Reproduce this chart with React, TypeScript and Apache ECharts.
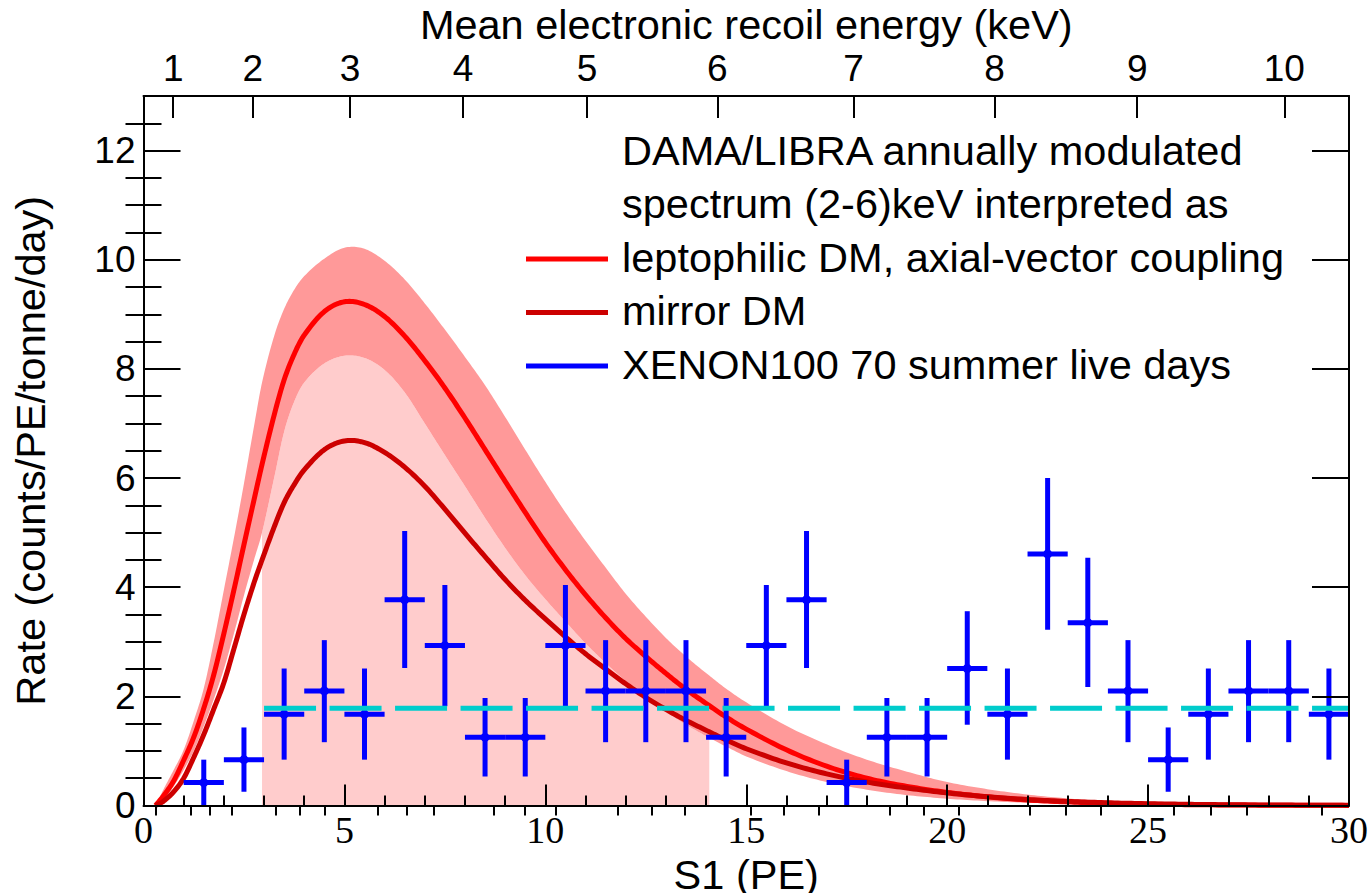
import { useEffect, useRef } from "react";
import * as echarts from "echarts";

// ---------- data ----------
// S1 grid (PE) on which the model curves were read
const curveS1 = [0.3, 0.5, 0.75, 1, 1.25, 1.5, 1.75, 2, 2.25, 2.5, 2.75, 2.95, 3.25, 3.5, 3.75, 4, 4.5, 5, 5.5, 6, 6.5, 7, 7.5, 8, 8.5, 9, 9.5, 10, 10.5, 11, 11.5, 12, 12.5, 13, 13.5, 14.08, 14.5, 15, 16, 17, 18, 19, 20, 21, 22, 23, 24, 25, 26, 27, 28, 29, 30];
// leptophilic DM, axial-vector coupling (central curve)
const leptophilic = [0, 0.18, 0.45, 0.83, 1.25, 1.78, 2.4, 3.15, 3.95, 4.78, 5.6, 6.25, 7.15, 7.8, 8.27, 8.62, 9.05, 9.23, 9.18, 8.96, 8.6, 8.15, 7.65, 7.1, 6.52, 5.94, 5.37, 4.82, 4.32, 3.86, 3.44, 3.06, 2.73, 2.42, 2.13, 1.83, 1.62, 1.4, 1.02, 0.72, 0.5, 0.35, 0.24, 0.16, 0.1, 0.065, 0.04, 0.025, 0.015, 0.01, 0.006, 0.004, 0.002];
// uncertainty band of the leptophilic curve
const leptoBandHigh = [0, 0.3, 0.65, 1.02, 1.55, 2.15, 3.0, 3.95, 4.9, 5.9, 6.95, 7.75, 8.6, 9.1, 9.45, 9.7, 10.02, 10.22, 10.2, 9.98, 9.64, 9.2, 8.72, 8.22, 7.7, 7.12, 6.52, 5.93, 5.37, 4.85, 4.36, 3.88, 3.46, 3.07, 2.73, 2.38, 2.14, 1.89, 1.46, 1.12, 0.84, 0.62, 0.43, 0.3, 0.2, 0.13, 0.085, 0.055, 0.035, 0.022, 0.014, 0.009, 0.006];
const leptoBandLow = [0, 0.1, 0.35, 0.65, 1.0, 1.45, 1.95, 2.5, 3.15, 3.85, 4.5, 5.0, 6.0, 6.85, 7.4, 7.75, 8.1, 8.24, 8.2, 7.98, 7.57, 7.0, 6.42, 5.85, 5.27, 4.72, 4.22, 3.78, 3.37, 2.97, 2.61, 2.28, 1.98, 1.72, 1.48, 1.24, 1.08, 0.9, 0.63, 0.43, 0.29, 0.19, 0.125, 0.08, 0.05, 0.032, 0.02, 0.012, 0.007, 0.004, 0.003, 0.002, 0.001];
// mirror DM
const mirrorDM = [0, 0.08, 0.25, 0.5, 0.88, 1.3, 1.77, 2.25, 2.87, 3.5, 4.08, 4.5, 5.1, 5.55, 5.88, 6.15, 6.52, 6.68, 6.65, 6.47, 6.2, 5.85, 5.43, 4.99, 4.56, 4.14, 3.76, 3.42, 3.09, 2.78, 2.5, 2.23, 1.98, 1.76, 1.56, 1.35, 1.2, 1.04, 0.78, 0.58, 0.43, 0.32, 0.23, 0.16, 0.11, 0.075, 0.05, 0.033, 0.022, 0.014, 0.009, 0.006, 0.004];
// DAMA (2-6) keV window in S1
const damaWindowS1 = [2.95, 14.08];

// XENON100 70 summer live days
const xenonBinCenters = [1.5, 2.5, 3.5, 4.5, 5.5, 6.5, 7.5, 8.5, 9.5, 10.5, 11.5, 12.5, 13.5, 14.5, 15.5, 16.5, 17.5, 18.5, 19.5, 20.5, 21.5, 22.5, 23.5, 24.5, 25.5, 26.5, 27.5, 28.5, 29.5];
const xenonRate = [0.42, 0.84, 1.67, 2.1, 1.67, 3.77, 2.93, 1.25, 1.25, 2.93, 2.1, 2.1, 2.1, 1.25, 2.93, 3.77, 0.42, 1.25, 1.25, 2.51, 1.67, 4.61, 3.35, 2.1, 0.84, 1.67, 2.1, 2.1, 1.67];
const xenonErrLowEnd = [0, 0.25, 0.84, 1.16, 0.84, 2.52, 1.82, 0.53, 0.53, 1.82, 1.16, 1.16, 1.16, 0.53, 1.82, 2.52, 0, 0.53, 0.53, 1.48, 0.84, 3.22, 2.17, 1.16, 0.25, 0.84, 1.16, 1.16, 0.84];
const xenonErrHighEnd = [0.84, 1.43, 2.51, 3.03, 2.51, 5.03, 4.04, 1.97, 1.97, 4.04, 3.03, 3.03, 3.03, 1.97, 4.04, 5.03, 0.84, 1.97, 1.97, 3.56, 2.51, 6.0, 4.54, 3.03, 1.43, 2.51, 3.03, 3.03, 2.51];
const xenonBinHalfWidth = 0.5;

// flat background level (dashed cyan)
const backgroundLevel = 1.78;
const backgroundRangeS1 = [3.0, 30];

// top axis: mean electronic recoil energy (keV) at S1 positions
const keVLabels = ["1", "2", "3", "4", "5", "6", "7", "8", "9", "10"];
const keVMajorS1 = [0.74, 2.72, 5.14, 7.95, 11.04, 14.28, 17.67, 21.18, 24.73, 28.39];
const keVMinorS1 = [0.31, 1.18, 1.66, 2.19, 3.3, 3.88, 4.51, 5.82, 6.54, 7.22, 8.72, 9.49, 10.27, 11.81, 12.64, 13.46, 15.1, 15.93, 16.81, 18.56, 19.42, 20.3, 22.05, 22.95, 23.83, 25.63, 26.56, 27.46, 29.31];

// y ticks
const yMajorTicks = [0, 2, 4, 6, 8, 10, 12];
const yMinorTicks = [0.5, 1, 1.5, 2.5, 3, 3.5, 4.5, 5, 5.5, 6.5, 7, 7.5, 8.5, 9, 9.5, 10.5, 11, 11.5, 12.5];

// legend
const legendLabels = [
  "DAMA/LIBRA annually modulated",
  "spectrum (2-6)keV interpreted as",
  "leptophilic DM, axial-vector coupling",
  "mirror DM",
  "XENON100 70 summer live days",
];
const legendColors = ["", "", "#FF0000", "#CC0000", "#0000FF"];

const SANS = "'Liberation Sans', Arial, Helvetica, sans-serif";
const SERIF = "'Liberation Serif', 'Times New Roman', serif";

// cubic Hermite smoothing of pixel points with finite-difference slopes (rendering only)
function spline(p: number[][], steps = 12): number[][] {
  const n = p.length;
  const m: number[] = [];
  for (let i = 0; i < n; i++) {
    const a = p[Math.max(0, i - 1)];
    const b = p[Math.min(n - 1, i + 1)];
    m.push((b[1] - a[1]) / (b[0] - a[0]));
  }
  const out: number[][] = [];
  for (let i = 0; i < n - 1; i++) {
    const [x0, y0] = p[i];
    const [x1, y1] = p[i + 1];
    const h = x1 - x0;
    for (let s = 0; s < steps; s++) {
      const t = s / steps;
      const t2 = t * t;
      const t3 = t2 * t;
      const y =
        (2 * t3 - 3 * t2 + 1) * y0 + (t3 - 2 * t2 + t) * h * m[i] + (-2 * t3 + 3 * t2) * y1 + (t3 - t2) * h * m[i + 1];
      out.push([x0 + h * t, y]);
    }
  }
  out.push(p[n - 1]);
  return out;
}

export default function App() {
  const ref = useRef<HTMLDivElement>(null);

  useEffect(() => {
    if (!ref.current) return;
    const chart = echarts.init(ref.current, undefined, { renderer: "svg" });

    const xenonData = xenonBinCenters.map((c, i) => [c, xenonRate[i], xenonErrLowEnd[i], xenonErrHighEnd[i]]);

    const axisLineStyle = { color: "#000", width: 2 };
    const tickLine = { color: "#000", width: 2 };

    const legendGraphics: any[] = [];
    const legendY = [150, 203.5, 257, 310.5, 364];
    legendLabels.forEach((t, i) => {
      legendGraphics.push({
        type: "text",
        x: 622,
        y: legendY[i],
        z: 100,
        style: { text: t, fill: "#000", font: `41.5px ${SANS}`, align: "left", verticalAlign: "middle" },
      });
      if (legendColors[i]) {
        legendGraphics.push({
          type: "line",
          z: 100,
          shape: { x1: 526, y1: legendY[i] + 2, x2: 608, y2: legendY[i] + 2 },
          style: { stroke: legendColors[i], lineWidth: 5 },
        });
      }
    });

    const edge = (api: any, ys: number[]) => spline(curveS1.map((x, i) => api.coord([x, ys[i]])));

    // polygon of the band (upper edge forward, lower edge backward)
    const bandRender = (_p: any, api: any) => {
      const up = edge(api, leptoBandHigh);
      const lo = edge(api, leptoBandLow).reverse();
      return { type: "polygon", shape: { points: up.concat(lo) }, style: { fill: "#FF9999" } };
    };
    // DAMA window region under the band
    const damaRender = (_p: any, api: any) => {
      const x0 = api.coord([damaWindowS1[0], 0]);
      const x1 = api.coord([damaWindowS1[1], 0]);
      const lo = edge(api, leptoBandLow).filter((q) => q[0] >= x0[0] - 0.01 && q[0] <= x1[0] + 0.01);
      const poly = lo.concat([x1, x0]);
      return { type: "polygon", shape: { points: poly }, style: { fill: "#FFCCCC" } };
    };
    const curveRender = (ys: number[], color: string) => (_p: any, api: any) => ({
      type: "polyline",
      shape: { points: edge(api, ys) },
      style: { stroke: color, lineWidth: 5, fill: null, lineJoin: "round" },
    });

    const nameStyle = { fontFamily: SANS, fontSize: 41.5, color: "#000" };

    const option: any = {
      animation: false,
      backgroundColor: "#fff",
      textStyle: { fontFamily: SANS },
      grid: { left: 143.5, right: 21, top: 96, bottom: 87.5, containLabel: false, outerBoundsMode: "none" },
      xAxis: [
        {
          type: "value",
          position: "bottom",
          min: 0,
          max: 30,
          interval: 5,
          z: 10,
          axisLine: { show: true, onZero: false, lineStyle: axisLineStyle },
          axisTick: { show: true, inside: true, length: 21, lineStyle: tickLine },
          minorTick: { show: true, splitNumber: 5, length: 10, lineStyle: tickLine },
          splitLine: { show: false },
          axisLabel: { fontFamily: SERIF, fontSize: 38, color: "#000", margin: 5, showMinLabel: true, showMaxLabel: true },
          name: "S1 (PE)",
          nameLocation: "middle",
          nameGap: 36,
          nameTextStyle: nameStyle,
        },
        {
          type: "value",
          position: "top",
          min: 0,
          max: 30,
          z: 10,
          axisLine: { show: true, onZero: false, lineStyle: axisLineStyle },
          axisTick: { show: true, inside: true, length: 22, lineStyle: tickLine, customValues: keVMajorS1 },
          splitLine: { show: false },
          axisLabel: {
            show: true,
            customValues: keVMajorS1,
            fontFamily: SANS,
            fontSize: 37,
            color: "#000",
            margin: 9,
            formatter: (v: number) => {
              const i = keVMajorS1.indexOf(v);
              return i >= 0 ? keVLabels[i] : "";
            },
          },
          name: "Mean electronic recoil energy (keV)",
          nameLocation: "middle",
          nameGap: 47,
          nameTextStyle: nameStyle,
        },
        {
          type: "value",
          position: "top",
          min: 0,
          max: 30,
          z: 10,
          axisLine: { show: false },
          axisTick: { show: true, inside: true, length: 10, lineStyle: tickLine, customValues: keVMinorS1 },
          axisLabel: { show: false },
          splitLine: { show: false },
        },
      ],
      yAxis: [
        {
          type: "value",
          position: "left",
          min: 0,
          max: 13,
          z: 10,
          axisLine: { show: true, onZero: false, lineStyle: axisLineStyle },
          axisTick: { show: true, inside: true, length: 37, lineStyle: tickLine, customValues: yMajorTicks },
          axisLabel: { customValues: yMajorTicks, fontFamily: SANS, fontSize: 37, color: "#000", margin: 8 },
          splitLine: { show: false },
          name: "Rate (counts/PE/tonne/day)",
          nameLocation: "middle",
          nameRotate: 90,
          nameGap: 92,
          nameTextStyle: nameStyle,
        },
        {
          type: "value",
          position: "left",
          min: 0,
          max: 13,
          z: 10,
          axisLine: { show: false },
          axisTick: { show: true, inside: true, length: 18, lineStyle: tickLine, customValues: yMinorTicks },
          axisLabel: { show: false },
          splitLine: { show: false },
        },
        {
          type: "value",
          position: "right",
          min: 0,
          max: 13,
          z: 10,
          axisLine: { show: true, onZero: false, lineStyle: axisLineStyle },
          axisTick: { show: true, inside: true, length: 37, lineStyle: tickLine, customValues: yMajorTicks },
          axisLabel: { show: false },
          splitLine: { show: false },
        },
        {
          type: "value",
          position: "right",
          min: 0,
          max: 13,
          z: 10,
          axisLine: { show: false },
          axisTick: { show: true, inside: true, length: 18, lineStyle: tickLine, customValues: yMinorTicks },
          axisLabel: { show: false },
          splitLine: { show: false },
        },
      ],
      series: [
        {
          name: "DAMA window",
          type: "custom",
          data: [[damaWindowS1[0], 0]],
          encode: { x: 0, y: 1 },
          renderItem: damaRender,
          silent: true,
        },
        {
          name: "band",
          type: "custom",
          data: [[curveS1[0], 0]],
          encode: { x: 0, y: 1 },
          renderItem: bandRender,
          silent: true,
        },
        {
          name: "leptophilic DM, axial-vector coupling",
          type: "custom",
          data: [[curveS1[0], leptophilic[0]]],
          encode: { x: 0, y: 1 },
          renderItem: curveRender(leptophilic, "#FF0000"),
        },
        {
          name: "mirror DM",
          type: "custom",
          data: [[curveS1[0], mirrorDM[0]]],
          encode: { x: 0, y: 1 },
          renderItem: curveRender(mirrorDM, "#CC0000"),
        },
        {
          name: "background",
          type: "line",
          data: backgroundRangeS1.map((x) => [x, backgroundLevel]),
          symbol: "none",
          lineStyle: { color: "#00CCCC", width: 5, type: [52, 13.5] },
        },
        {
          name: "XENON100 70 summer live days",
          type: "custom",
          data: xenonData,
          encode: { x: 0, y: 1 },
          clip: true,
          renderItem: (_params: any, api: any) => {
            const x = api.value(0);
            const y = api.value(1);
            const lo = api.value(2);
            const hi = api.value(3);
            const pL = api.coord([x - xenonBinHalfWidth, y]);
            const pR = api.coord([x + xenonBinHalfWidth, y]);
            const pLo = api.coord([x, lo]);
            const pHi = api.coord([x, hi]);
            const c = api.coord([x, y]);
            const style = { stroke: "#0000FF", lineWidth: 5, fill: null };
            return {
              type: "group",
              children: [
                { type: "line", shape: { x1: pL[0], y1: pL[1], x2: pR[0], y2: pR[1] }, style },
                { type: "line", shape: { x1: pLo[0], y1: pLo[1], x2: pHi[0], y2: pHi[1] }, style },
                { type: "circle", shape: { cx: c[0], cy: c[1], r: 4.5 }, style: { fill: "#0000FF" } },
              ],
            };
          },
        },
      ],
      graphic: legendGraphics,
    };

    chart.setOption(option);
    return () => chart.dispose();
  }, []);

  return (
    <div
      ref={ref}
      style={{ position: "absolute", left: 0, top: 0, width: 1370, height: 893, background: "#fff" }}
    />
  );
}
